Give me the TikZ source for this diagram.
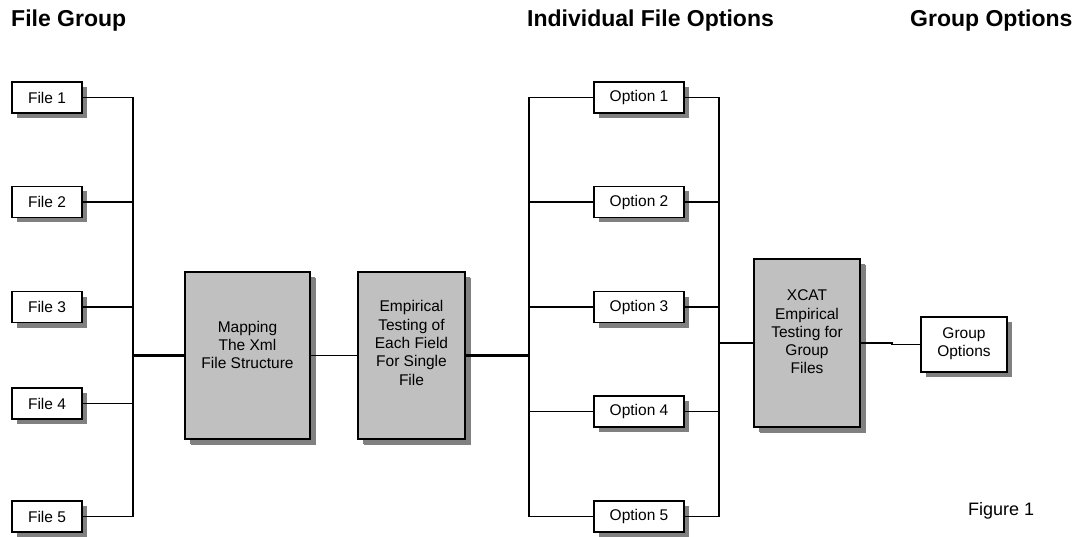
\documentclass[tikz,border=0pt]{standalone}
\usepackage{fontspec}
\setmainfont{Liberation Sans}
\usetikzlibrary{shadows}
\definecolor{shadowgray}{RGB}{128,128,128}
\definecolor{boxgray}{RGB}{192,192,192}
\tikzset{
  boxbase/.style={draw=black, line width=1.5pt, inner sep=0pt,
    general shadow={fill=shadowgray, shadow xshift=5pt, shadow yshift=-5pt}},
  filebox/.style={boxbase, fill=white, minimum width=70pt, minimum height=31pt,
    font=\fontsize{15.5}{18}\selectfont},
  optbox/.style={boxbase, fill=white, minimum width=90pt, minimum height=31pt,
    font=\fontsize{15.5}{18}\selectfont},
  bigbox/.style={boxbase, fill=boxgray, line width=1.9pt,
    general shadow={fill=shadowgray, shadow xshift=6pt, shadow yshift=-6pt}},
  boxtext/.style={align=center, inner sep=0pt, font=\fontsize{15.5}{18.3}\selectfont},
  heading/.style={anchor=base west, inner sep=0pt, font=\fontsize{23}{26}\selectfont\bfseries},
  thinline/.style={line width=1.3pt},
  thickline/.style={line width=2.5pt},
}
\begin{document}
\begin{tikzpicture}[x=1pt,y=-1pt]
\useasboundingbox (0,0) rectangle (1083,537);
% headings
\node[heading] (h1) at (11,27) {File Group};
\node[heading] (h2) at (527,27) {Individual File Options};
\node[heading] (h3) at (910,27) {Group Options};
\node[anchor=base west, inner sep=0pt, font=\fontsize{18}{20}\selectfont] (fig) at (968,515) {Figure 1};
% bus coordinates
\coordinate (bL) at (133,0);
\coordinate (oL) at (529,0);
\coordinate (oR) at (719,0);
% file boxes
\node[filebox] (f1) at (47,97.5) {File 1};
\node[filebox] (f2) at (47,202) {File 2};
\node[filebox] (f3) at (47,307) {File 3};
\node[filebox] (f4) at (47,403.5) {File 4};
\node[filebox] (f5) at (47,516.5) {File 5};
% option boxes
\node[optbox] (o1) at (639,97.5) {Option 1};
\node[optbox] (o2) at (639,202) {Option 2};
\node[optbox] (o3) at (639,307) {Option 3};
\node[optbox] (o4) at (639,411.5) {Option 4};
\node[optbox] (o5) at (639,516.5) {Option 5};
% big boxes
\node[bigbox, minimum width=125pt, minimum height=167pt] (map) at (247.5,355.5) {};
\node[boxtext] (mapt) at (247.5,345) {Mapping\\The Xml\\File Structure};
\node[bigbox, minimum width=107pt, minimum height=167pt] (emp) at (411.5,355.5) {};
\node[boxtext] (empt) at (411.5,343) {Empirical\\Testing of\\Each Field\\For Single\\File};
\node[bigbox, minimum width=106pt, minimum height=168pt] (xcat) at (807,343) {};
\node[boxtext] (xcatt) at (807,332) {XCAT\\Empirical\\Testing for\\Group\\Files};
\node[boxbase, fill=white, minimum width=86pt, minimum height=55pt] (go) at (964,344.5) {};
\node[boxtext] (got) at (964,343.5) {Group\\Options};
% file connectors
\foreach \n in {f1,f2,f3,f4,f5}{
  \draw[thinline] (\n.east) -- (\n.east -| bL);
}
\draw[thinline] (f1.east -| bL) -- (f5.east -| bL);
\draw[thickline] (f2.east -| bL) -- (f4.east -| bL);
\draw[thickline] (map.west -| bL) -- (map.west);
\draw[thinline] (map.east) -- (emp.west |- map.east);
\draw[thickline] (emp.east) -- (emp.east -| oL);
% option connectors
\foreach \n in {o1,o2,o3,o4,o5}{
  \draw[thinline] (\n.west -| oL) -- (\n.west);
  \draw[thinline] (\n.east) -- (\n.east -| oR);
}
\draw[thinline] (o1.west -| oL) -- (o5.west -| oL);
\draw[thickline] (o2.west -| oL) -- (o4.west -| oL);
\draw[thinline] (o1.east -| oR) -- (o5.east -| oR);
\draw[thickline] (o2.east -| oR) -- (o4.east -| oR);
\draw[thickline] (xcat.west -| oR) -- (xcat.west);
\draw[thinline] (xcat.east) -- ++(31,0) |- (go.west);
\end{tikzpicture}
\end{document}
